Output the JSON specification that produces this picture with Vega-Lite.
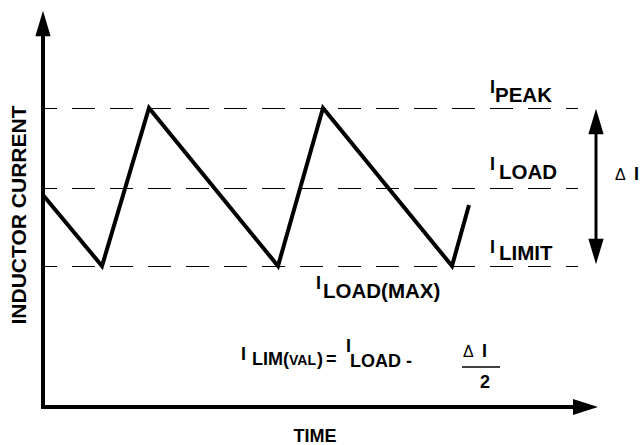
{
  "$schema": "https://vega.github.io/schema/vega-lite/v6.json",
  "width": 640,
  "height": 445,
  "autosize": {"type": "none"},
  "padding": 0,
  "background": "white",
  "config": {"view": {"stroke": null}, "text": {"font": "Liberation Sans", "fontWeight": "bold", "color": "black"}},
  "datasets": {
    "wave": [
      {"t": 0, "i": 212}, {"t": 59, "i": 141}, {"t": 106, "i": 299}, {"t": 235, "i": 141},
      {"t": 280, "i": 299}, {"t": 409, "i": 141}, {"t": 426, "i": 202}
    ],
    "levels": [
      {"level": "peak", "t": 1, "t2": 535, "i": 298.5},
      {"level": "load", "t": 1, "t2": 535, "i": 218.5},
      {"level": "limit", "t": 1, "t2": 535, "i": 140.5}
    ],
    "axesLines": [
      {"axis": "current", "t": 0, "t2": 0, "i": -2, "i2": 373},
      {"axis": "time", "t": -2, "t2": 532, "i": 0, "i2": 0}
    ],
    "deltaArrow": [{"t": 553, "t2": 553, "i": 160, "i2": 280}],
    "fractionBar": [{"t": 419, "t2": 457, "i": 40, "i2": 40}],
    "labels": [
      {"kind": "I", "t": 447, "i": 314, "text": "I"},
      {"kind": "sub", "t": 452, "i": 305, "text": "PEAK"},
      {"kind": "I", "t": 447, "i": 237, "text": "I"},
      {"kind": "sub", "t": 456, "i": 228, "text": "LOAD"},
      {"kind": "I", "t": 447, "i": 154, "text": "I"},
      {"kind": "sub", "t": 456, "i": 147, "text": "LIMIT"},
      {"kind": "I", "t": 273, "i": 118, "text": "I"},
      {"kind": "sub", "t": 280, "i": 109, "text": "LOAD(MAX)"},
      {"kind": "I", "t": 591, "i": 227, "text": "I"},
      {"kind": "I", "t": 198, "i": 47, "text": "I"},
      {"kind": "I", "t": 303, "i": 55, "text": "I"},
      {"kind": "I", "t": 439, "i": 50, "text": "I"},
      {"kind": "eq", "t": 209, "i": 42, "text": "LIM("},
      {"kind": "small", "t": 246, "i": 42, "text": "VAL"},
      {"kind": "eq", "t": 274, "i": 42, "text": ")"},
      {"kind": "eq", "t": 283, "i": 42, "text": "="},
      {"kind": "eq", "t": 307, "i": 40, "text": "LOAD -"},
      {"kind": "eq", "t": 437, "i": 19, "text": "2"}
    ],
    "deltas": [{"t": 572, "i": 227}, {"t": 420, "i": 50}],
    "arrowsUp": [{"t": 0, "i": 383.5}, {"t": 553, "i": 285.5}],
    "arrowsDown": [{"t": 553, "i": 155.5}],
    "arrowsRight": [{"t": 542.5, "i": 0}]
  },
  "encoding": {
    "x": {"field": "t", "type": "quantitative", "scale": {"domain": [-43, 597], "nice": false, "zero": false}, "axis": null},
    "y": {"field": "i", "type": "quantitative", "scale": {"domain": [-38, 407], "nice": false, "zero": false}, "axis": null}
  },
  "layer": [
    {
      "data": {"name": "levels"},
      "mark": {"type": "rule", "strokeWidth": 1, "color": "black", "strokeDash": [23, 15], "strokeDashOffset": 10},
      "encoding": {"x2": {"field": "t2"}}
    },
    {
      "data": {"name": "wave"},
      "mark": {"type": "line", "color": "black", "strokeWidth": 4, "strokeJoin": "miter", "strokeCap": "butt"},
      "encoding": {}
    },
    {
      "data": {"name": "axesLines"},
      "mark": {"type": "rule", "color": "black", "strokeWidth": 4},
      "encoding": {"x2": {"field": "t2"}, "y2": {"field": "i2"}}
    },
    {
      "data": {"name": "deltaArrow"},
      "mark": {"type": "rule", "color": "black", "strokeWidth": 3},
      "encoding": {"x2": {"field": "t2"}, "y2": {"field": "i2"}}
    },
    {
      "data": {"name": "fractionBar"},
      "mark": {"type": "rule", "color": "black", "strokeWidth": 1.5},
      "encoding": {"x2": {"field": "t2"}, "y2": {"field": "i2"}}
    },
    {
      "data": {"name": "arrowsUp"},
      "mark": {"type": "point", "shape": "M0,-1L0.6,1L-0.6,1Z", "filled": true, "color": "black", "opacity": 1, "size": 650, "strokeWidth": 0}
    },
    {
      "data": {"name": "arrowsDown"},
      "mark": {"type": "point", "shape": "M0,1L0.6,-1L-0.6,-1Z", "filled": true, "color": "black", "opacity": 1, "size": 650, "strokeWidth": 0}
    },
    {
      "data": {"name": "arrowsRight"},
      "mark": {"type": "point", "shape": "M1,0L-1,-0.64L-1,0.64Z", "filled": true, "color": "black", "opacity": 1, "size": 625, "strokeWidth": 0}
    },
    {
      "data": {"name": "labels"},
      "transform": [{"filter": "datum.kind === 'I'"}],
      "mark": {"type": "text", "fontSize": 18, "align": "left", "baseline": "alphabetic"},
      "encoding": {"text": {"field": "text"}}
    },
    {
      "data": {"name": "labels"},
      "transform": [{"filter": "datum.kind === 'sub'"}],
      "mark": {"type": "text", "fontSize": 20.5, "align": "left", "baseline": "alphabetic"},
      "encoding": {"text": {"field": "text"}}
    },
    {
      "data": {"name": "labels"},
      "transform": [{"filter": "datum.kind === 'eq'"}],
      "mark": {"type": "text", "fontSize": 18, "align": "left", "baseline": "alphabetic"},
      "encoding": {"text": {"field": "text"}}
    },
    {
      "data": {"name": "labels"},
      "transform": [{"filter": "datum.kind === 'small'"}],
      "mark": {"type": "text", "fontSize": 14, "align": "left", "baseline": "alphabetic"},
      "encoding": {"text": {"field": "text"}}
    },
    {
      "data": {"name": "deltas"},
      "mark": {"type": "text", "fontSize": 16, "fontWeight": "normal", "align": "left", "baseline": "alphabetic"},
      "encoding": {"text": {"value": "Δ"}}
    },
    {
      "data": {"values": [{"t": 272, "i": -35, "text": "TIME"}]},
      "mark": {"type": "text", "fontSize": 18, "align": "center", "baseline": "alphabetic"},
      "encoding": {"text": {"field": "text"}}
    },
    {
      "data": {"values": [{"t": -23, "i": 192, "text": "INDUCTOR CURRENT"}]},
      "mark": {"type": "text", "fontSize": 21, "align": "center", "baseline": "middle", "angle": 270},
      "encoding": {"text": {"field": "text"}}
    }
  ]
}
